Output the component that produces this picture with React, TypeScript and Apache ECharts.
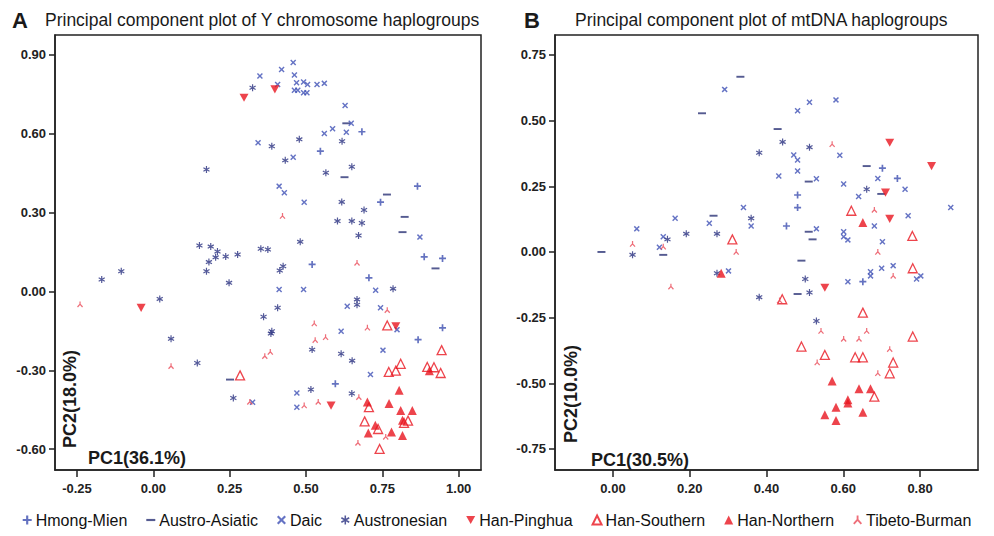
import React, { useEffect, useRef } from 'react';
import * as echarts from 'echarts';

// ---------- categories ----------
const categories = ['Hmong-Mien', 'Austro-Asiatic', 'Daic', 'Austronesian', 'Han-Pinghua', 'Han-Southern', 'Han-Northern', 'Tibeto-Burman'];

// ---------- tick labels ----------
const aXTicks = [-0.25, 0, 0.25, 0.5, 0.75, 1.0];
const aYTicks = [-0.6, -0.3, 0, 0.3, 0.6, 0.9];
const bXTicks = [0, 0.2, 0.4, 0.6, 0.8];
const bYTicks = [-0.75, -0.5, -0.25, 0, 0.25, 0.5, 0.75];

// ---------- Panel A: Y chromosome ----------
const aHmongMien = [[0.683, 0.608], [0.547, 0.534], [0.744, 0.34], [0.865, 0.401], [0.887, 0.132], [0.947, 0.126], [0.52, 0.103], [0.706, 0.052], [0.947, -0.138], [0.867, -0.183], [0.596, -0.351]];
const aAustroAsiatic = [[0.632, 0.64], [0.626, 0.435], [0.765, 0.369], [0.823, 0.284], [0.816, 0.226], [0.924, 0.088], [0.251, -0.335]];
const aDaic = [[0.458, 0.871], [0.42, 0.845], [0.349, 0.82], [0.462, 0.824], [0.407, 0.788], [0.469, 0.794], [0.492, 0.797], [0.505, 0.788], [0.462, 0.766], [0.473, 0.766], [0.492, 0.756], [0.503, 0.756], [0.536, 0.788], [0.56, 0.792], [0.628, 0.708], [0.648, 0.64], [0.587, 0.619], [0.56, 0.601], [0.632, 0.606], [0.343, 0.566], [0.458, 0.511], [0.412, 0.401], [0.429, 0.376], [0.494, 0.34], [0.873, 0.207], [0.412, 0.008], [0.492, 0.008], [0.635, -0.056], [0.744, -0.062], [0.798, -0.145], [0.615, -0.151], [0.752, -0.223], [0.711, -0.316], [0.325, -0.421], [0.47, -0.386], [0.47, -0.44], [0.728, 0.005]];
const aAustronesian = [[0.325, 0.775], [0.388, 0.553], [0.478, 0.579], [0.618, 0.572], [0.432, 0.499], [0.65, 0.475], [0.565, 0.452], [0.617, 0.341], [0.69, 0.31], [0.603, 0.268], [0.65, 0.268], [0.683, 0.261], [0.672, 0.213], [0.481, 0.189], [0.352, 0.163], [0.375, 0.16], [0.174, 0.464], [0.151, 0.175], [0.188, 0.171], [0.21, 0.152], [0.204, 0.13], [0.237, 0.133], [0.276, 0.141], [0.182, 0.112], [0.174, 0.077], [0.248, 0.033], [-0.105, 0.077], [-0.169, 0.046], [0.021, -0.028], [0.058, -0.18], [0.144, -0.272], [0.262, -0.405], [0.425, 0.096], [0.414, 0.08], [0.785, 0.011], [0.407, -0.062], [0.361, -0.096], [0.388, -0.151], [0.385, -0.16], [0.52, -0.221], [0.615, -0.237], [0.651, -0.263], [0.516, -0.373], [0.65, -0.388], [0.667, -0.03], [0.667, -0.05]];
const aHanPinghua = [[0.297, 0.737], [0.398, 0.769], [-0.04, -0.062], [0.794, -0.132], [0.582, -0.434]];
const aHanSouthern = [[0.284, -0.319], [0.766, -0.129], [0.944, -0.223], [0.81, -0.275], [0.771, -0.306], [0.794, -0.301], [0.897, -0.287], [0.919, -0.288], [0.941, -0.31], [0.706, -0.44], [0.692, -0.494], [0.834, -0.491], [0.821, -0.5], [0.736, -0.523], [0.741, -0.599]];
const aHanNorthern = [[0.904, -0.301], [0.805, -0.376], [0.701, -0.42], [0.772, -0.426], [0.81, -0.453], [0.848, -0.453], [0.816, -0.49], [0.727, -0.509], [0.704, -0.538], [0.78, -0.534], [0.816, -0.548]];
const aTibetoBurman = [[0.423, 0.287], [-0.24, -0.049], [0.058, -0.284], [0.316, -0.42], [0.667, 0.109], [0.766, -0.071], [0.527, -0.122], [0.701, -0.138], [0.53, -0.185], [0.564, -0.174], [0.383, -0.23], [0.365, -0.246], [0.494, -0.434], [0.54, -0.42], [0.673, -0.402], [0.761, -0.553], [0.67, -0.576]];

// ---------- Panel B: mtDNA ----------
const bHmongMien = [[0.702, 0.319], [0.741, 0.28], [0.481, 0.217], [0.481, 0.169], [0.452, 0.099], [0.651, -0.113]];
const bAustroAsiatic = [[0.332, 0.667], [0.232, 0.528], [0.429, 0.468], [0.262, 0.138], [-0.03, 0.0], [0.131, -0.011], [0.661, 0.327], [0.51, 0.268], [0.699, 0.221], [0.51, 0.077], [0.52, 0.048], [0.491, -0.033], [0.481, -0.16]];
const bDaic = [[0.291, 0.619], [0.432, 0.289], [0.34, 0.169], [0.36, 0.099], [0.162, 0.128], [0.251, 0.109], [0.062, 0.088], [0.131, 0.058], [0.121, 0.018], [0.581, 0.579], [0.512, 0.57], [0.481, 0.538], [0.471, 0.369], [0.481, 0.35], [0.591, 0.368], [0.481, 0.308], [0.53, 0.279], [0.69, 0.28], [0.601, 0.259], [0.761, 0.239], [0.64, 0.211], [0.88, 0.169], [0.769, 0.138], [0.681, 0.099], [0.53, 0.088], [0.601, 0.077], [0.601, 0.058], [0.612, 0.046], [0.702, 0.039], [0.301, -0.072], [0.612, -0.113], [0.671, -0.075], [0.671, -0.091], [0.7, -0.062], [0.73, -0.052], [0.791, -0.103], [0.802, -0.091]];
const bAustronesian = [[0.381, 0.378], [0.36, 0.128], [0.191, 0.069], [0.271, 0.069], [0.142, 0.048], [0.051, -0.011], [0.442, 0.419], [0.512, 0.399], [0.661, 0.239], [0.271, -0.081], [0.381, -0.172], [0.501, -0.103], [0.512, -0.154], [0.53, -0.263]];
const bHanPinghua = [[0.721, 0.416], [0.83, 0.327], [0.71, 0.226], [0.721, 0.126], [0.552, -0.136]];
const bHanSouthern = [[0.311, 0.048], [0.621, 0.157], [0.78, 0.061], [0.441, -0.18], [0.781, -0.062], [0.651, -0.231], [0.781, -0.322], [0.491, -0.36], [0.552, -0.392], [0.631, -0.401], [0.651, -0.401], [0.73, -0.421], [0.721, -0.462], [0.681, -0.551]];
const bHanNorthern = [[0.651, 0.112], [0.282, -0.081], [0.571, -0.491], [0.641, -0.521], [0.671, -0.521], [0.612, -0.563], [0.612, -0.575], [0.581, -0.591], [0.552, -0.62], [0.651, -0.61], [0.581, -0.642]];
const bTibetoBurman = [[0.571, 0.41], [0.681, 0.16], [0.69, 0.0], [0.051, 0.03], [0.131, 0.02], [0.321, 0.0], [0.151, -0.132], [0.434, -0.185], [0.73, -0.091], [0.542, -0.301], [0.661, -0.301], [0.601, -0.331], [0.641, -0.331], [0.721, -0.37], [0.532, -0.421], [0.69, -0.462]];

const panelA = [aHmongMien, aAustroAsiatic, aDaic, aAustronesian, aHanPinghua, aHanSouthern, aHanNorthern, aTibetoBurman];
const panelB = [bHmongMien, bAustroAsiatic, bDaic, bAustronesian, bHanPinghua, bHanSouthern, bHanNorthern, bTibetoBurman];

// ---------- marker shapes ----------
const PLUS = 'path://M3.8,0H6.2V3.8H10V6.2H6.2V10H3.8V6.2H0V3.8H3.8Z';
const MINUS = 'path://M0,0H10V2.4H0Z';
const CROSS = 'path://M1.7,0L5,3.3L8.3,0L10,1.7L6.7,5L10,8.3L8.3,10L5,6.7L1.7,10L0,8.3L3.3,5L0,1.7Z';
const STAR = 'path://M8.3,0H11.7V20H8.3Z M0.45,6.55L2.15,3.6L19.55,13.45L17.85,16.4Z M2.15,16.4L0.45,13.45L17.85,3.6L19.55,6.55Z';
const TRIPOD = 'path://M3.9,0H6.1V5.5H3.9Z M5.82,5.74L1.32,10.74L-0.32,9.26L4.18,4.26Z M5.82,4.26L10.32,9.26L8.68,10.74L4.18,5.74Z';
const DOWN = 'path://M0,0H10L5,9Z';

const RED = '#e8151f';
const styles: any[] = [
  { symbol: PLUS, symbolSize: 7, itemStyle: { color: '#3d4fb0' } },
  { symbol: MINUS, symbolSize: 8, itemStyle: { color: '#2b3275' } },
  { symbol: CROSS, symbolSize: 6, itemStyle: { color: '#3f50b5' } },
  { symbol: STAR, symbolSize: 7, itemStyle: { color: '#28307f' } },
  { symbol: DOWN, symbolSize: 9, itemStyle: { color: RED } },
  { symbol: 'triangle', symbolSize: 9, itemStyle: { color: 'rgba(255,255,255,0)', borderColor: RED, borderWidth: 1.3 } },
  { symbol: 'triangle', symbolSize: 9, itemStyle: { color: RED } },
  { symbol: TRIPOD, symbolSize: 6, itemStyle: { color: '#ea4a57' } },
];

const FONT = 'Liberation Sans, Arial, sans-serif';
const fmt = (v: number) => v.toFixed(2);

function makeX(grid: number, min: number, max: number, ticks: number[]) {
  return {
    type: 'value', gridIndex: grid, min, max,
    axisLine: { show: true, onZero: false, lineStyle: { color: '#222', width: 1.5 } },
    axisTick: { show: true, customValues: ticks, length: 7, lineStyle: { color: '#222', width: 1.5 } },
    axisLabel: { customValues: ticks, formatter: fmt, fontWeight: 'bold', fontSize: 13, color: '#222', margin: 12, fontFamily: FONT },
    splitLine: { show: false },
  };
}
function makeY(grid: number, min: number, max: number, ticks: number[]) {
  return {
    type: 'value', gridIndex: grid, min, max,
    axisLine: { show: true, onZero: false, lineStyle: { color: '#222', width: 1.5 } },
    axisTick: { show: true, customValues: ticks, length: 6, lineStyle: { color: '#222', width: 1.5 } },
    axisLabel: { customValues: ticks, formatter: fmt, fontWeight: 'bold', fontSize: 13, color: '#222', margin: 9, fontFamily: FONT },
    splitLine: { show: false },
  };
}

export default function App() {
  const ref = useRef<HTMLDivElement>(null);
  useEffect(() => {
    document.body.style.margin = '0';
    if (!ref.current) return;
    const chart = echarts.init(ref.current, undefined, { renderer: 'svg' });
    const series: any[] = [];
    [panelA, panelB].forEach((panel, p) => {
      panel.forEach((data, i) => {
        series.push({
          type: 'scatter', name: categories[i], data, xAxisIndex: p, yAxisIndex: p,
          symbolKeepAspect: true, ...styles[i],
        });
      });
    });
    const txt = (x: number, y: number, text: string, size: number, bold: boolean, extra: any = {}) => ({
      type: 'text', x, y, ...extra,
      style: { text, fontSize: size, fontWeight: bold ? 'bold' : 'normal', fontFamily: FONT, fill: '#1a1a1a', align: extra.align || 'left', verticalAlign: 'middle' },
    });
    chart.setOption({
      animation: false,
      backgroundColor: '#ffffff',
      grid: [
        { left: 55, top: 35, width: 426, height: 435, show: true, borderColor: '#222', borderWidth: 1.5, outerBoundsMode: 'none' },
        { left: 555, top: 35, width: 423, height: 435, show: true, borderColor: '#222', borderWidth: 1.5, outerBoundsMode: 'none' },
      ],
      xAxis: [makeX(0, -0.322, 1.073, aXTicks), makeX(1, -0.151, 0.951, bXTicks)],
      yAxis: [makeY(0, -0.679, 0.976, aYTicks), makeY(1, -0.83, 0.826, bYTicks)],
      legend: {
        data: categories, left: 'center', top: 512, itemWidth: 9, itemHeight: 9, itemGap: 19, padding: 0,
        textStyle: { fontSize: 16, color: '#111', fontFamily: FONT, padding: [0, 0, 0, -1] },
      },
      graphic: [
        txt(12, 20, 'A', 22, true),
        txt(45, 20, 'Principal component plot of Y chromosome haplogroups', 17.5, false),
        txt(524, 20, 'B', 22, true),
        txt(575, 20, 'Principal component plot of mtDNA haplogroups', 17.5, false),
        txt(137, 458, 'PC1(36.1%)', 18, true, { align: 'center' }),
        { ...txt(70, 399, 'PC2(18.0%)', 18, true, { align: 'center' }), rotation: Math.PI / 2 },
        txt(640, 460, 'PC1(30.5%)', 18, true, { align: 'center' }),
        { ...txt(571, 394, 'PC2(10.0%)', 18, true, { align: 'center' }), rotation: Math.PI / 2 },
      ],
      series,
    });
    return () => chart.dispose();
  }, []);
  return <div ref={ref} style={{ width: 994, height: 536 }} />;
}
